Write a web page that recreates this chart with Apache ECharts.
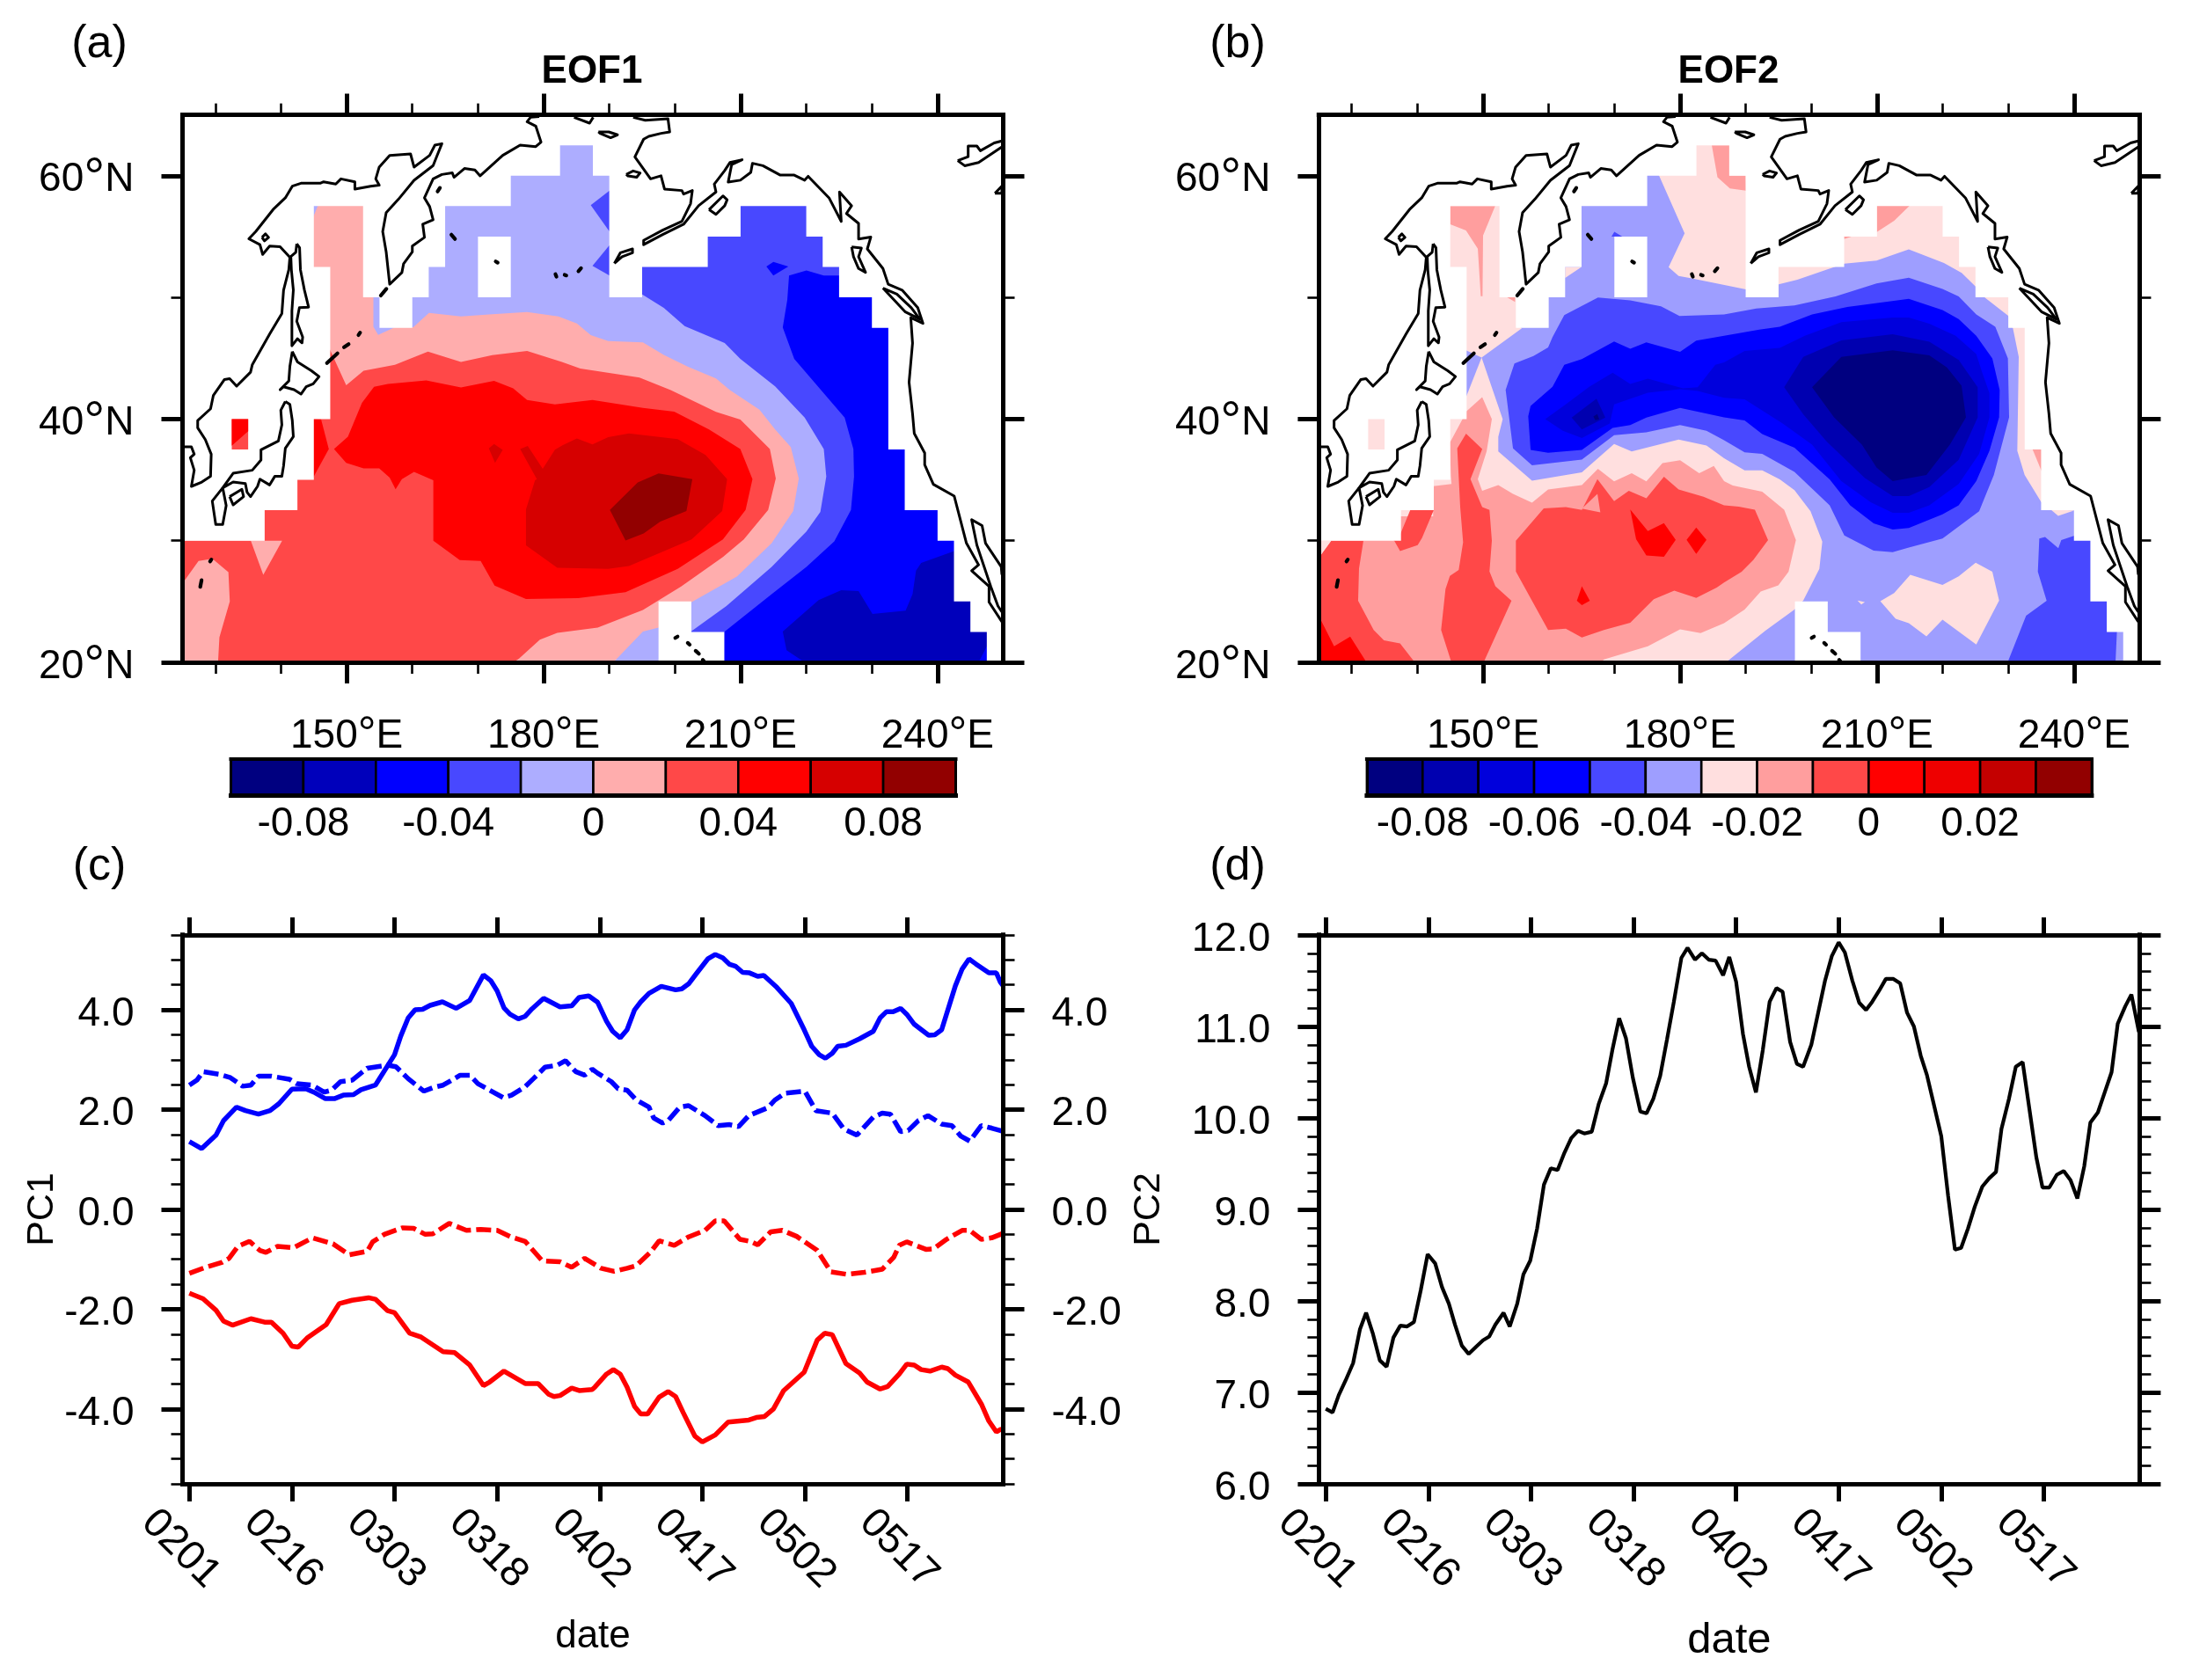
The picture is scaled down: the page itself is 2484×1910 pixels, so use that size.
<!DOCTYPE html>
<html><head><meta charset="utf-8">
<style>html,body{margin:0;padding:0;background:#fff}#c{width:2484px;height:1910px}</style>
<script src="https://cdn.jsdelivr.net/npm/echarts@6/dist/echarts.min.js"></script>
</head><body><div id="c"></div>
<script>
// ---------- tick labels and levels ----------
const lonMajor=[150,180,210,240];
const lonLabels=['150°E','180°E','210°E','240°E'];
const lonMinor=[130,140,160,170,190,200,220,230];
const latMajor=[20,40,60];
const latLabels=['20°N','40°N','60°N'];
const latMinor=[30,50];
const dayTicks=[0,15,30,45,60,75,90,105];
const dayLabels=['0201','0216','0303','0318','0402','0417','0502','0517'];
const pc1Major=[-4,-2,0,2,4];
const pc1Minor=[-5.5,-5,-4.5,-3.5,-3,-2.5,-1.5,-1,-0.5,0.5,1,1.5,2.5,3,3.5,4.5,5,5.5];
const pc2Major=[6,7,8,9,10,11,12];
const pc2Minor=[6.2,6.4,6.6,6.8,7.2,7.4,7.6,7.8,8.2,8.4,8.6,8.8,9.2,9.4,9.6,9.8,10.2,10.4,10.6,10.8,11.2,11.4,11.6,11.8];
const levelsA=[-0.1,-0.08,-0.06,-0.04,-0.02,0,0.02,0.04,0.06,0.08,0.1];
const levelLabelsA=[-0.08,-0.04,0,0.04,0.08];
const coloursA=['#000080','#0000bb','#0000ff','#4848ff','#adadff','#ffadad','#ff4848','#ff0000','#d60000','#920000'];
const levelsB=[-0.09,-0.08,-0.07,-0.06,-0.05,-0.04,-0.03,-0.02,-0.01,0,0.01,0.02,0.03,0.04];
const levelLabelsB=[-0.08,-0.06,-0.04,-0.02,0,0.02];
const coloursB=['#000080','#0000b0','#0000dc','#0000ff','#4848ff','#9e9eff','#ffdfdf','#ff9e9e','#ff4848','#ff0000','#ee0000','#c40000','#920000'];

// ---------- land mask (lon,lat) ----------
const domain=[[125,20],[250,20],[250,65],[125,65]];
const maskLand=[[125,30],[137.5,30],[137.5,32.5],[142.5,32.5],[142.5,35],[145,35],[145,40],[147.5,40],[147.5,52.5],[145,52.5],[145,57.5],[152.5,57.5],[152.5,50],[155,50],[155,47.5],[160,47.5],[160,50],[162.5,50],[162.5,52.5],[165,52.5],[165,57.5],[175,57.5],[175,60],[182.5,60],[182.5,62.5],[187.5,62.5],[187.5,60],[190,60],[190,50],[195,50],[195,52.5],[205,52.5],[205,55],[210,55],[210,57.5],[220,57.5],[220,55],[222.5,55],[222.5,52.5],[225,52.5],[225,50],[230,50],[230,47.5],[232.5,47.5],[232.5,37.5],[235,37.5],[235,32.5],[240,32.5],[240,30],[242.5,30],[242.5,25],[245,25],[245,22.5],[247.5,22.5],[247.5,20],[250,20],[250,65],[125,65]];
const maskHawaii=[[197.5,20],[197.5,25],[202.5,25],[202.5,22.5],[207.5,22.5],[207.5,20]];
const maskHole=[[170,50],[170,55],[175,55],[175,50]];
const japanSeaCell=[[132.5,37.5],[132.5,40],[135,40],[135,37.5]];

// ---------- EOF1 contour regions (lon,lat) ----------
const a_n3=[[194.91,50.27],[198.3,49.14],[201.48,47.63],[207.58,46.24],[209.96,44.95],[215.26,42.69],[219.76,40.11],[222.67,37.53],[223.05,35.27],[222.15,32.37],[220.03,30.76],[214.73,27.85],[207.84,24.63],[202.44,22.53],[202.44,20],[250,20],[250,65],[195,65]];
const a_n3b=[[190.03,58.78],[187.18,57.58],[190.03,55.41]];
const a_n3c=[[190.03,54.28],[187.44,52.59],[190.03,51.8]];
const a_n2=[[217.38,51.79],[217.11,49.79],[216.42,47.53],[218.17,44.95],[225.85,40.11],[227.18,37.53],[227.28,35.27],[226.81,32.53],[224.27,29.95],[220.03,27.85],[214.73,25.6],[207.58,22.53],[207.58,20],[250,20],[250,51.8],[222.67,51.79],[220.03,52.21]];
const a_n2b=[[213.93,52.53],[214.99,52.92],[217.27,52.53],[214.99,51.79]];
const a_n1=[[216.42,22.53],[221.88,25.11],[225.32,25.92],[227.97,25.85],[230.09,23.98],[235.13,24.24],[236.19,25.6],[236.72,27.53],[237.5,28.17],[242.54,29.14],[250,29],[250,21.4],[247.57,21.4],[246.25,20],[219.76,20],[217,21]];
const a_p1=[[145.6,57.5],[154,58],[154.07,49.99],[154.07,47.58],[154.8,46.91],[157.35,47.54],[160.15,47.54],[162.54,48.72],[167.41,48.43],[172.18,48.62],[177.48,48.79],[182.25,48.43],[185.06,47.85],[187.18,46.89],[189.83,46.4],[195.12,46.3],[198.3,45.27],[202,44.3],[206.25,43.34],[208.37,42.37],[212.87,40.76],[215.26,39.14],[217.64,37.69],[218.86,35.11],[218.01,32.43],[214.73,29.79],[209.43,27.05],[202.54,24.95],[197.51,22.85],[195.12,22.53],[190.62,20],[125,20],[125,56.6],[144.9,56.6]];
const a_p2=[[147.39,45.78],[149.93,42.77],[152.58,43.97],[157.35,44.45],[162.38,45.54],[167.41,44.69],[172.18,45.25],[177.48,45.59],[182.78,44.69],[185.59,44.14],[194.6,43.4],[199.36,42.37],[206.25,40.59],[209.96,39.95],[214.46,37.53],[215.36,35.11],[214.2,32.53],[210.49,30.11],[207.31,28.66],[200.95,26.24],[195.12,24.3],[188.24,22.85],[182.08,22.43],[179.43,21.87],[176.25,20.3],[175.4,20],[130.41,20],[130.62,22.06],[132.2,25.01],[131.99,27.41],[129.56,28.52],[127.44,28.33],[125,26.49],[125,30],[135.4,30],[137.3,27.2],[140.17,30],[137.5,30],[137.5,46]];
const a_p3=[[148.07,37.54],[150.19,38.55],[152.33,41.32],[154.17,42.65],[156.29,42.89],[162.12,43.18],[167.41,42.6],[172.45,43.13],[175.36,42.53],[177.48,41.57],[181.72,41.2],[187.44,41.56],[195.12,40.92],[199.89,40.6],[205.19,39.14],[209.96,37.53],[211.81,35.05],[210.76,32.53],[207.31,30.11],[200.42,27.69],[192.48,25.76],[185.26,25.27],[177.31,25.2],[172.53,26.3],[170.41,28.33],[167.23,28.4],[163.2,30],[163.2,34.97],[160.26,35.66],[158.41,35.06],[157.45,34.22],[156.55,35.18],[154.96,35.95],[152.58,35.95],[149.93,36.39]];
const a_p3b=[[144.9,40.05],[146.1,40],[147.28,37.54],[144.9,35.18]];
const a_p4=[[178.97,35.06],[176.42,37.54],[177.58,37.78],[179.86,35.91],[181.72,37.47],[182.94,37.85],[185.06,38.4],[187.44,37.92],[189.83,38.5],[193,38.82],[200.42,38.34],[204.66,37.05],[207.95,35.05],[207.2,32.43],[202.54,30.11],[193,27.92],[189.83,27.69],[182.08,27.78],[177.31,29.62],[177.31,32.57],[178.69,34.97]];
const a_p4b=[[171.65,37.59],[172.45,37.95],[173.77,37.46],[172.6,36.39]];
const a_p5=[[190.09,32.53],[194.33,34.79],[197.51,35.53],[202.65,35.05],[201.75,32.43],[197.77,31.56],[195.23,30.59],[192.48,30.01]];
const a_cellRed=[[132.5,40],[135,40],[135,39],[132.5,37.8]];

// ---------- EOF2 contour regions (lon,lat) ----------
const b_paleWest=[[187,20],[125,20],[125,60],[155,60],[155.5,47.6],[155.9,47.46],[149.78,45.05],[152.99,39.99],[152.32,38.55],[152.32,37.34],[157.46,34.93],[165.05,35.61],[169.96,37.95],[172.64,37.34],[179.79,38.31],[184.03,37.82],[186.71,36.77],[189.84,35.78],[192.52,35.78],[195.2,35.03],[197.43,34.16],[199.88,32.42],[201.67,29.93],[201.22,27.69],[198.77,25.08],[197.43,24.33],[192.96,22.59]];
const b_paleNorth=[[176.77,60.06],[180.7,55.26],[178.26,52.49],[179.79,51.75],[181.8,51.56],[186.26,51.07],[190.04,50.65],[195,50],[195.02,51.08],[197.87,51.45],[203.23,52.44],[205.02,52.77],[209.93,53.02],[214.84,53.94],[220.2,52.82],[222.9,52.02],[225.12,50.83],[226.46,49.96],[230.03,48.46],[230.7,47.47],[231.59,45.1],[231.37,37.39],[232.49,35.4],[235.03,33.16],[236,33],[250,33],[250,65],[176.77,65]];
const b_bluePatch=[[147.41,45.65],[149.78,45.05],[147.41,41.8],[146,41.8],[146,45.65]];
const b_paleCorner=[[125,30],[126.87,30],[125,28.6]];
const b_paleBit1=[[162.5,52.5],[165,52.5],[162.5,51.6]];
const b_paleBit2=[[236.5,32.54],[237.6,32.04],[240.08,32.49]];
const b_paleIsland=[[210.51,25.03],[212.61,25.7],[215.07,27.19],[219.98,26.37],[222.44,27.07],[225.03,28.19],[227.57,27.44],[228.6,25.08],[225.12,21.47],[219.98,23.51],[217.53,22.14],[214.85,23.21],[212.84,23.58]];
const b_paleDot=[[207.03,25.08],[208.15,24.95],[207.61,24.75]];
const b_pink=[[147.41,40.6],[149.87,41.8],[151.34,40],[150.54,37.34],[149.2,35.05],[149.87,34.09],[152.32,34.57],[154.56,33.85],[157.46,33.13],[159.91,34.21],[165.05,34.57],[167.5,35.9],[169.96,34.88],[172.64,35.54],[174.87,34.88],[177.33,36.38],[180.01,36.62],[182.92,35.54],[185.15,36.14],[186.71,34.9],[188.05,34.53],[192.52,34.03],[195.86,32.54],[197.65,30.05],[196.53,27.44],[194.97,26.32],[192.29,25.82],[189.84,24.33],[186.71,23.21],[183.14,22.41],[180.01,22.72],[175.1,21.32],[168.4,20.24],[168,20],[125,20],[125,30.5],[137,30.5],[137,32],[142.4,32],[142.4,34.47],[145.2,34.65],[145.1,35.3],[144.95,38.06],[146.87,40]];
const b_pinkTL=[[145,57.5],[151.84,57.5],[150,55.08],[149.92,50.1],[149.65,50.1],[149.2,54],[147.4,55.5],[145,56]];
const b_pinkBit=[[153.66,50],[154.87,50],[154.87,49.63]];
const b_pinkN=[[184.84,62.5],[187.5,62.5],[187.5,60],[190,60],[190.04,58.77],[187.6,58.95],[185.7,59.87]];
const b_pinkNE=[[209.93,57.54],[214.98,57.54],[212.61,56.3],[209.93,55.35]];
const b_pinkBit2=[[204.93,55],[206.1,55],[205,54.8]];
const b_pinkE=[[233.69,37.52],[235.07,37.52],[235.07,35.7]];
const b_redWest=[[147.41,38.79],[149.87,37.54],[148.08,35.05],[149.87,32.77],[150.98,32.52],[151.34,29.99],[150.98,27.47],[151.88,26.26],[154.33,25.06],[150.09,20],[145.18,20],[143.61,22.65],[144.28,26.02],[144.95,27.11],[146.29,27.59],[146.96,29.87],[146.52,32.77],[146.07,37.58]];
const b_redMain=[[155,29.99],[159.24,32.65],[162.6,32.77],[165.05,32.52],[167.42,35.05],[169.96,33.25],[172.2,34.09],[174.87,33.49],[177.55,35.25],[179.79,34.21],[183.58,33.61],[186.71,32.91],[188.94,32.79],[191.4,32.54],[193.41,30.05],[191.18,28.43],[189.39,27.44],[186.71,26.57],[185.59,26.14],[182.47,25.3],[179.12,25.9],[176,25.18],[172.42,23.25],[168.4,22.65],[165.05,22.04],[162.6,22.77],[159.91,22.65],[155,27.47]];
const b_notch=[[165.05,32.64],[167.42,33.85],[167.86,32.33]];
const b_redNW=[[138.92,32.52],[142.5,32.52],[140.71,30.23],[140.04,29.63],[137.36,29.15],[136.47,30],[135,30.5],[137.36,30.48]];
const b_redSW=[[126.87,30],[131.78,30],[131.11,27.71],[130.97,25.06],[133.34,22.65],[134.9,21.8],[137.36,21.56],[139.6,20],[125,20],[125,28.6]];
const b_hot1=[[172.42,32.57],[175.1,30.79],[177.55,31.44],[179.34,30.07],[177.55,28.67],[174.87,28.79],[173.31,30.12]];
const b_hot2=[[182.47,31.08],[184.03,30.07],[182.47,28.91],[181,30.07]];
const b_hot3=[[165.05,26.26],[166.26,25.06],[165.05,24.7],[164.29,25.06]];
const b_hot4=[[125,23.8],[127.31,21.32],[129.77,22.12],[132.25,20],[125,20]];
const b_blue4=[[154.56,37.58],[153.44,42.4],[154.78,44.57],[157.68,45.17],[159.91,45.89],[160.58,46.74],[162.37,48.54],[167.5,49.99],[172.42,49.75],[177.1,49.27],[179.92,48.47],[186.71,48.59],[191.62,49.09],[197.43,49.33],[203.68,50.08],[209.93,51.15],[214.84,51.62],[219.98,50.7],[222.44,50.08],[225.12,48.59],[228.02,47.59],[229.94,44.98],[230.12,40.13],[227.8,35.4],[225.56,32.42],[219.98,30.18],[214.85,29.43],[212.39,29.06],[209.49,29.18],[205.02,30.43],[202.79,32.91],[197.43,35.65],[192.52,37.14],[189.84,37.27],[186.71,38.26],[184.03,39.03],[180.01,39.51],[174.87,38.91],[169.96,38.67],[165.05,36.67],[157.46,36.19]];
const b_blue3=[[157.24,37.46],[156.88,40.23],[157.24,41.08],[160.58,42.64],[162.37,44.45],[165.05,44.93],[169.96,46.38],[172.42,45.77],[174.87,46.3],[180.01,45.53],[182.47,46.45],[186.71,46.85],[192.07,47.34],[195.2,47.59],[200.11,48.59],[205.47,49.21],[214.84,49.88],[219.98,48.96],[222.44,48.21],[225.12,46.85],[227.57,44.98],[228.69,42.37],[228.6,40.13],[227.13,37.39],[225.12,34.9],[222.44,32.91],[219.98,32.17],[214.85,31.05],[212.39,30.92],[209.49,31.42],[205.91,32.91],[202.79,35.03],[197.43,37.64],[192.52,38.76],[189.84,39.88],[186.71,40.13],[180.01,40.91],[174.87,40.11],[172.42,39.51],[169.74,39.27],[165.05,37.46],[159.91,37.22]];
const b_blue2=[[159.47,39.99],[162.59,41.2],[166.17,42.64],[169.74,43.8],[172.42,42.88],[175.1,43.32],[180.46,42.52],[182.69,42.62],[185.37,44.45],[186.71,44.66],[189.84,45.6],[195.2,45.85],[199,46.85],[204.57,47.97],[212.39,48.34],[214.84,48.34],[217.97,47.84],[221.99,46.85],[225.12,45.35],[226,43.86],[227.13,42.12],[227.13,40.13],[225.56,37.14],[222.44,34.66],[217.97,32.91],[214.85,32.29],[212.39,32.29],[209.04,33.16],[204.57,34.9],[200.11,37.89],[195.64,39.63],[189.84,41.62],[186.71,41.75],[182.69,42.3],[180.01,42.45],[175.1,42.16],[169.96,41.2],[169.29,39.63],[165.05,38.43],[162.15,39.03]];
const b_blue1=[[195.86,42.62],[198.77,45.1],[204.57,46.47],[212.39,46.97],[217.97,46.35],[222.44,44.86],[225.34,42.62],[225.34,40.13],[222.44,36.65],[217.97,34.41],[214.85,33.66],[212.39,33.66],[208.15,35.15],[202.34,38.14],[198.77,40.38]];
const b_blue1b=[[163.49,40.11],[167.28,41.68],[168.62,40.11],[165.05,39.15]];
const b_navy=[[200.11,42.62],[204.57,45.1],[212.39,45.65],[217.97,45.23],[220.65,44.23],[222.88,42.74],[223.55,40.13],[221.1,37.89],[217.53,35.4],[212.39,34.9],[209.93,36.02],[207.7,37.89],[203.46,40.13]];
const b_navyB=[[166.8,40.2],[167.4,40.4],[167.7,39.98],[167.1,39.9]];
const b_blueSE=[[234.72,30.18],[235.6,30.3],[237.62,29.38],[238.07,30.05],[240.08,30.42],[245,30.42],[245,22.59],[246.55,22.59],[246.33,20],[229.9,20],[232.71,23.83],[235.84,25.07],[234.5,27.44]];
const b_blueBit=[[169.56,55],[170,55.4],[171.2,55]];

// ---------- coastlines (lon,lat) ----------
const coastAsia=[[125,37.71],[126.35,37.71],[126.78,37.11],[126.19,36.82],[126.78,35.79],[126.35,34.46],[127.94,34.82],[129.27,35.3],[129.37,37.11],[128.47,38.31],[127.31,39.28],[127.31,39.88],[129.27,40.84],[129.69,41.93],[131.39,43.25],[132.18,43.32],[133.24,42.7],[135.36,43.85],[135.62,44.45],[138.27,46.98],[140.13,48.67],[140.39,50.59],[141.19,52.28],[141.35,53.29],[139.86,54.16],[138.27,54.21],[137.21,53.53],[136.79,54.33],[135.1,54.81],[136.15,55.41],[138.8,57.22],[140.66,58.18],[141.72,59.14],[143.04,59.38],[145.96,59.38],[146.49,59.5],[148.34,59.31],[149.13,59.74],[151.25,59.5],[151.25,58.9],[153.64,59.14],[154.96,59.22],[154.43,59.74],[154.96,60.71],[156.55,61.67],[159.73,61.79],[160.26,60.71],[162.64,61.67],[163.44,62.51],[164.5,62.63],[163.7,61.55],[163.17,60.83],[160.26,59.62],[157.88,58.06],[156.02,56.97],[155.49,55.41],[156.02,53.73],[156.55,51.08],[158.41,52.04],[158.67,52.76],[160,53.73],[160,54.21],[161.85,54.93],[161.59,56.01],[163.17,56.37],[162.64,57.46],[161.85,58.18],[163.17,59.74],[164.5,60.1],[166.09,60.23],[166.35,59.87],[167.94,60.59],[169.53,60.47],[170.33,59.99],[173.77,61.67],[176.42,62.51],[178.8,62.39],[179.6,62.76],[178.8,64.08],[177.48,64.44],[178.01,64.8],[179.33,64.87]];
const coastChukotka=[[184.63,64.8],[187,64.32],[187.55,64.8]];
const coastStLawrence=[[188.34,63.6],[189.93,63.6],[191.25,63.36],[190.2,63.12],[188.6,63.48],[188.34,63.6]];
const coastNunivak=[[192.58,60.11],[193.64,60.39],[194.7,60.23],[194.17,59.87],[192.85,59.98],[192.58,60.11]];
const coastAmerica=[[193.64,64.8],[195.49,64.56],[198.94,64.68],[199.2,63.6],[197.88,63.48],[196.02,63.24],[195.23,63],[193.9,61.55],[196.29,59.74],[197.88,59.99],[198.41,58.9],[201.06,58.78],[201.32,58.49],[202.65,58.78],[202.38,57.7],[201.06,56.25],[198.14,55.53],[195.23,54.69],[195.23,54.33],[198.14,55.17],[201.32,56.01],[203.6,57.53],[206.25,58.66],[205.99,59.31],[207.58,60.43],[208.37,61.08],[210.23,61.31],[208.64,60.92],[208.11,59.47],[209.96,59.63],[211.55,60.27],[211.81,61.02],[213.4,60.82],[216.05,60.05],[218.17,60.05],[219.76,59.63],[220.29,59.95],[223.47,58.18],[225.33,56.24],[225.06,58.66],[226.91,57.53],[226.12,56.89],[227.97,56.08],[227.97,54.79],[229.83,54.95],[229.3,53.98],[231.68,52.37],[232.48,51.08],[234.6,50.6],[236.98,49.15],[237.78,47.86],[235.92,48.34],[236.19,46.24],[235.66,43.02],[236.19,40.43],[236.45,38.82],[238.04,37.21],[238.04,36.24],[239.36,34.63],[242.54,33.66],[244.4,29.79],[246.25,28.01],[245.19,27.53],[247.84,26.24],[247.84,24.95],[249.8,23.34]];
const coastBaja=[[249.8,27.21],[249.7,27.85],[247.31,29.79],[246.78,31.24],[245.19,31.72],[245.99,29.63],[248.1,26.24],[249.2,24.63],[249.8,24.14]];
const coastKodiak=[[205.19,57.21],[207.31,58.34],[207.95,58.02],[207.58,57.53],[206.25,56.82],[205.19,57.21]];
const coastCharlotte=[[226.91,54.14],[228.4,54.05],[227.97,53.34],[229.03,52.05],[227.97,52.37],[227.2,53.34],[226.91,54.14]];
const coastVancouver=[[231.68,50.76],[233.8,50.27],[236,49.15],[237.3,48.2],[235.1,48.8],[233,50],[231.68,50.76]];
const coastUnimak=[[190.78,52.79],[191.68,53.66],[193.54,53.98],[193.54,53.66],[191.95,53.34],[190.78,52.79]];
const coastLake=[[243.07,61.24],[244.66,61.56],[244.66,62.44],[245.99,62.44],[246.52,62.05],[248.63,62.69],[249.8,62.86]];
const coastLake2=[[249.8,62.37],[246.25,61.08],[244.13,60.82],[243.07,61.24]];
const coastBay=[[248.74,58.56],[249.8,59.15],[249.8,58.56],[248.74,58.56]];
const coastSakhalin=[[142.4,54.4],[142.83,54.08],[142.96,52.27],[143.57,50.59],[144.2,49.2],[142.8,49.15],[142.4,48.04],[143.3,46.73],[143.2,46.26],[142.5,46.6],[141.66,46.02],[141.66,48.9],[141.88,50.6],[141.58,52.28],[141.5,53.35],[142.25,53.7],[142.4,54.4]];
const coastHokkaido=[[141.72,45.54],[142.51,44.69],[144.63,43.97],[145.8,43.49],[144.9,42.89],[143.84,42.65],[143.04,42.05],[141.98,42.41],[140.39,42.65],[139.86,42.41],[141.19,43.13],[141.35,44.33],[141.72,45.54]];
const coastHonshu=[[140.66,41.44],[141.35,41.2],[141.72,39.88],[141.88,38.55],[140.66,37.59],[140.39,36.15],[140.13,35.3],[139.07,35.3],[138.27,34.58],[136.79,35.06],[136.42,34.46],[135.36,33.62],[134.83,33.98],[134.57,34.7],[132.71,34.82],[131.12,34.34],[132.71,35.54],[135.62,35.79],[136.95,36.63],[136.95,37.47],[139.6,38.19],[140.13,39.52],[139.97,40.72],[140.66,41.44]];
const coastKyushu=[[131.12,34.34],[129.53,33.26],[130.06,31.33],[131.12,31.33],[131.65,32.89],[131.12,34.34]];
const coastShikoku=[[132.18,33.62],[134.04,34.22],[134.3,33.62],[132.71,32.94],[132.18,33.62]];
const coastShantar=[[137.11,54.93],[137.64,55.22],[138.11,54.93],[137.48,54.64],[137.11,54.93]];
const coastLines=[coastAsia,coastChukotka,coastStLawrence,coastNunivak,coastAmerica,coastBaja,coastKodiak,coastCharlotte,coastVancouver,coastUnimak,coastLake,coastLake2,coastBay,coastSakhalin,coastHokkaido,coastHonshu,coastKyushu,coastShikoku,coastShantar];
const smallIslands=[[[147,44.6],[148.6,45.4]],[[149.6,45.9],[150.3,46.15]],[[151.8,46.9],[152.05,47.1]],[[155.2,50.15],[156.05,50.7]],[[163.85,58.7],[164.2,59]],[[165.95,55.15],[166.5,54.8]],[[172.7,52.95],[173,52.85]],[[181.8,51.9],[181.95,51.7]],[[183.2,51.85],[183.45,51.8]],[[185.3,52.15],[185.7,52.4]],[[129.2,28.3],[129.4,28.45]],[[127.9,26.75],[127.7,26.2]],[[200.05,22],[200.4,22.12]],[[201.95,21.6],[202.25,21.45]],[[203.15,20.95],[203.65,20.7]],[[204.25,20.2],[204.4,20.1]]];

// stacking order of regions: [colour index, region]; -1 means land (white)
const layersA=[[4,domain],[3,a_n3],[3,a_n3b],[3,a_n3c],[2,a_n2],[2,a_n2b],[1,a_n1],[5,a_p1],[6,a_p2],[7,a_p3],[7,a_p3b],[8,a_p4],[8,a_p4b],[9,a_p5],[-1,maskLand],[-1,maskHawaii],[-1,maskHole],[6,japanSeaCell],[7,a_cellRed]];
const layersB=[[5,domain],[6,b_paleWest],[6,b_paleNorth],[5,b_bluePatch],[6,b_paleCorner],[6,b_paleBit1],[6,b_paleBit2],[6,b_paleIsland],[6,b_paleDot],[7,b_pink],[7,b_pinkTL],[7,b_pinkBit],[7,b_pinkN],[7,b_pinkNE],[7,b_pinkBit2],[7,b_pinkE],[6,b_paleCorner],[8,b_redWest],[8,b_redMain],[7,b_notch],[8,b_redNW],[8,b_redSW],[6,b_paleCorner],[9,b_hot1],[9,b_hot2],[9,b_hot3],[9,b_hot4],[4,b_blue4],[3,b_blue3],[2,b_blue2],[1,b_blue1],[1,b_blue1b],[0,b_navy],[0,b_navyB],[4,b_blueSE],[4,b_blueBit],[-1,maskLand],[-1,maskHawaii],[-1,maskHole],[6,japanSeaCell]];

// ---------- time series [day index, value] ----------
const pc1Solid=[[0,1.36],[1.8,1.22],[3.9,1.49],[5,1.78],[6.9,2.05],[8.2,1.98],[10.1,1.91],[11.8,1.98],[13.1,2.12],[15,2.41],[17,2.42],[18.2,2.35],[19.9,2.22],[21.2,2.22],[22.5,2.29],[24,2.3],[25.1,2.4],[27.2,2.49],[30,3.1],[30.9,3.47],[32,3.84],[33,4],[34.1,4.01],[35.2,4.09],[37,4.16],[39,4.03],[41,4.19],[43,4.7],[44.1,4.58],[45,4.38],[46,4.04],[46.9,3.91],[48.1,3.82],[49.1,3.87],[50.1,4.02],[51.8,4.23],[54.2,4.06],[55.9,4.08],[57,4.25],[58.4,4.28],[59.7,4.15],[61,3.77],[61.9,3.57],[63,3.44],[64,3.6],[65.1,4],[66,4.16],[67.2,4.33],[69,4.47],[71.1,4.4],[72,4.42],[73,4.52],[74.1,4.72],[75.8,5.02],[76.9,5.11],[78,5.04],[79,4.91],[79.9,4.87],[80.9,4.75],[81.9,4.74],[83.1,4.67],[84,4.69],[85.9,4.45],[88,4.13],[89.9,3.6],[91,3.27],[92.1,3.1],[93,3.03],[94,3.13],[94.8,3.27],[96,3.29],[98,3.42],[100,3.57],[101,3.84],[101.9,3.96],[102.9,3.96],[104,4.03],[104.9,3.91],[106,3.71],[108.1,3.49],[109,3.5],[110,3.6],[112,4.48],[113,4.82],[114,5.02],[115,4.92],[116.9,4.74],[118,4.74],[118.6,4.55],[119,4.48]];
const pc1Dashed=[[0,2.49],[1.1,2.59],[2,2.76],[4.3,2.71],[6,2.64],[7.8,2.47],[9,2.49],[10.1,2.67],[12,2.67],[14.6,2.61],[15.7,2.52],[18,2.49],[19.7,2.35],[20.8,2.39],[22.1,2.56],[23.8,2.59],[26,2.83],[29,2.89],[30.2,2.86],[32,2.62],[34.3,2.37],[35.8,2.45],[37.1,2.49],[39.6,2.69],[41,2.69],[42.2,2.52],[45.9,2.24],[47.1,2.29],[49.1,2.46],[50.3,2.62],[52,2.85],[53.8,2.89],[55,2.98],[56.5,2.76],[57.8,2.69],[58.9,2.81],[59.7,2.73],[61.7,2.56],[62.7,2.42],[64,2.39],[65.3,2.2],[67.2,2.05],[67.9,1.83],[69.2,1.73],[70,1.78],[71.7,2.05],[73,2.08],[75.4,1.88],[77.3,1.68],[79,1.7],[80.3,1.66],[81.8,1.88],[84.6,2.04],[85.6,2.19],[87.1,2.33],[90,2.37],[91.6,1.98],[94,1.93],[95.7,1.61],[97.6,1.49],[100,1.85],[101.3,1.93],[102.5,1.91],[104,1.56],[105.1,1.58],[106.6,1.78],[108,1.88],[110,1.71],[111.5,1.68],[112.8,1.47],[114.1,1.37],[115.8,1.68],[117.3,1.63],[118.6,1.58],[119,1.56]];
const pc2Solid=[[0,-1.68],[2,-1.79],[3.9,-2.02],[5,-2.24],[6.3,-2.32],[9,-2.19],[11,-2.26],[12,-2.26],[13.7,-2.48],[15,-2.74],[15.9,-2.76],[17.2,-2.58],[20,-2.31],[21.9,-1.89],[23.8,-1.82],[26.2,-1.77],[27.2,-1.8],[29,-2.03],[30,-2.07],[32.2,-2.48],[33.9,-2.56],[37.1,-2.85],[38.8,-2.87],[41,-3.12],[43,-3.53],[43.9,-3.46],[46,-3.24],[49.1,-3.49],[51,-3.49],[52.5,-3.7],[53.3,-3.75],[54.2,-3.73],[55.9,-3.58],[57,-3.63],[58.9,-3.61],[59.3,-3.56],[61,-3.3],[62,-3.21],[63,-3.3],[64,-3.56],[65.1,-3.95],[66,-4.1],[67,-4.1],[68.7,-3.76],[70,-3.65],[71.1,-3.75],[72.2,-4.07],[73.9,-4.54],[75,-4.66],[76.9,-4.52],[78.8,-4.26],[81.8,-4.22],[82.9,-4.17],[84.1,-4.15],[85.4,-4],[86.9,-3.63],[89.9,-3.26],[91.8,-2.62],[92.9,-2.48],[94,-2.51],[96,-3.09],[98,-3.28],[99.1,-3.46],[101,-3.6],[102.1,-3.55],[103.8,-3.3],[104.9,-3.1],[106,-3.12],[107,-3.21],[108.3,-3.24],[110,-3.16],[110.9,-3.19],[112,-3.32],[113.9,-3.46],[115.8,-3.9],[116.9,-4.24],[118,-4.46],[118.6,-4.41],[119,-4.4]];
const pc2Dashed=[[0,-1.28],[2.4,-1.16],[4.8,-1.06],[5.8,-0.98],[7.1,-0.74],[8.8,-0.64],[10.3,-0.82],[11.2,-0.86],[12.9,-0.74],[15.2,-0.77],[18,-0.57],[21,-0.69],[23.4,-0.91],[26,-0.84],[26.8,-0.65],[28.5,-0.5],[31.1,-0.37],[32.8,-0.38],[34.5,-0.5],[35.6,-0.49],[38,-0.28],[40.5,-0.42],[42.6,-0.4],[45,-0.42],[47,-0.55],[49.1,-0.64],[51.6,-1.03],[54.2,-1.05],[55.9,-1.16],[57.8,-0.98],[60.2,-1.18],[62.1,-1.24],[64,-1.18],[65.3,-1.13],[67.4,-0.86],[68.7,-0.63],[70.9,-0.72],[73,-0.55],[75.4,-0.42],[76.9,-0.23],[78.2,-0.23],[80.5,-0.6],[82,-0.64],[83.1,-0.71],[85,-0.45],[86.7,-0.42],[88.8,-0.54],[91.8,-0.82],[93.8,-1.25],[96.1,-1.3],[98.7,-1.26],[101.3,-1.2],[103,-0.96],[103.8,-0.72],[104.9,-0.65],[107.7,-0.8],[108.8,-0.79],[110.7,-0.6],[113,-0.42],[114.1,-0.42],[115.8,-0.6],[117.3,-0.57],[118.6,-0.5],[119,-0.47]];
const pcD=[[0,6.82],[1,6.78],[1.9,6.97],[2.9,7.13],[4,7.32],[5,7.69],[5.9,7.87],[6.9,7.64],[7.9,7.35],[8.9,7.28],[9.9,7.6],[10.9,7.73],[11.9,7.72],[12.9,7.77],[13.9,8.12],[14.9,8.51],[16,8.41],[17,8.15],[18,7.97],[18.9,7.74],[19.9,7.51],[20.9,7.42],[22,7.5],[23,7.57],[23.9,7.61],[24.8,7.74],[26,7.87],[26.9,7.72],[28,7.97],[28.9,8.29],[29.9,8.44],[30.9,8.79],[31.9,9.27],[32.9,9.45],[33.9,9.43],[34.9,9.62],[35.9,9.78],[36.9,9.86],[37.8,9.83],[38.9,9.85],[39.9,10.15],[41,10.38],[41.9,10.74],[42.9,11.09],[43.9,10.87],[44.9,10.44],[46,10.07],[46.9,10.05],[47.9,10.21],[48.9,10.46],[49.9,10.86],[50.9,11.27],[52,11.75],[52.9,11.86],[54,11.73],[55,11.8],[56,11.73],[57,11.72],[58.1,11.56],[59,11.76],[60,11.49],[61,10.92],[61.9,10.56],[62.9,10.28],[63.9,10.74],[64.9,11.27],[65.9,11.42],[66.8,11.38],[67.9,10.83],[68.9,10.59],[69.8,10.56],[71,10.8],[72,11.15],[73,11.5],[74,11.77],[75,11.92],[75.9,11.81],[77,11.5],[78,11.26],[79,11.18],[79.9,11.27],[80.9,11.39],[81.9,11.52],[83,11.52],[84,11.47],[85,11.15],[86,11],[87,10.68],[87.9,10.47],[89,10.12],[90,9.8],[91,9.15],[92,8.56],[92.9,8.58],[93.9,8.79],[94.9,9.03],[96,9.25],[97,9.34],[98,9.41],[98.8,9.88],[99.9,10.21],[100.9,10.56],[101.9,10.61],[102.9,10.09],[103.9,9.57],[104.8,9.24],[105.8,9.24],[106.9,9.38],[107.9,9.42],[108.9,9.32],[109.9,9.12],[110.9,9.47],[111.8,9.95],[112.9,10.06],[113.9,10.28],[114.9,10.5],[115.8,11.03],[116.9,11.22],[117.8,11.35],[118.9,10.94]];

// ---------- layout ----------
const FONT='"Liberation Sans",Arial,sans-serif';
const LEFT_A=207.5, LEFT_B=1499.4, PANEL_W=933;
const grids=[
 {left:LEFT_A,top:130.6,width:PANEL_W,height:622.4},
 {left:LEFT_B,top:130.6,width:PANEL_W,height:622.4},
 {left:LEFT_A,top:1063,width:PANEL_W,height:624},
 {left:LEFT_B,top:1063,width:PANEL_W,height:624},
 {left:262.5,top:863,width:824,height:41},
 {left:1553.9,top:863,width:824,height:41}
].map(g=>Object.assign({outerBoundsMode:'none',containLabel:false,show:false},g));

const xAxes=[], yAxes=[];
function axis(list,o){
  const a={type:'value',gridIndex:o.grid,position:o.pos,min:o.min,max:o.max,z:10,
    splitLine:{show:false},
    axisLine:{show:true,onZero:false,lineStyle:{color:'#000',width:o.lineW||5,cap:'square'}},
    axisTick:o.ticks?{show:true,customValues:o.ticks,length:o.len,inside:false,lineStyle:{color:'#000',width:o.tickW||5}}:{show:false},
    axisLabel:{show:false}};
  if(o.labels){
    a.axisLabel=Object.assign({show:true,customValues:o.labels,formatter:o.fmt,margin:o.margin,color:'#000',fontFamily:FONT,fontSize:o.fs||46,hideOverlap:false},o.labelExtra||{});
  }
  if(o.name){Object.assign(a,{name:o.name,nameLocation:'middle',nameGap:o.nameGap,nameRotate:o.nameRotate||0,nameTextStyle:{color:'#000',fontFamily:FONT,fontSize:o.nameSize||44}});}
  list.push(a);
  return list.length-1;
}
const lookup=(vals,labs)=>v=>{const i=vals.findIndex(x=>Math.abs(x-v)<1e-6);return i<0?'':labs[i];};
const degree=(vals,labs)=>v=>lookup(vals,labs)(v).replace('°','{d|°}');
const series=[];

function polygonSeries(gi,xi,yi,layers,colours){
  series.push({type:'custom',coordinateSystem:'cartesian2d',xAxisIndex:xi,yAxisIndex:yi,silent:true,animation:false,clip:true,z:2,
    data:layers.map((_,i)=>[i]),encode:{x:-1,y:-1},
    renderItem:(p,api)=>{const l=layers[p.dataIndex];
      return {type:'polygon',shape:{points:l[1].map(c=>api.coord(c))},style:{fill:l[0]<0?'#ffffff':colours[l[0]],stroke:null}};}});
  series.push({type:'custom',coordinateSystem:'cartesian2d',xAxisIndex:xi,yAxisIndex:yi,silent:true,animation:false,clip:true,z:3,
    data:coastLines.map((_,i)=>[i]),encode:{x:-1,y:-1},
    renderItem:(p,api)=>({type:'polyline',shape:{points:coastLines[p.dataIndex].map(c=>api.coord(c))},style:{fill:null,stroke:'#000',lineWidth:3,lineJoin:'round'}})});
  series.push({type:'custom',coordinateSystem:'cartesian2d',xAxisIndex:xi,yAxisIndex:yi,silent:true,animation:false,clip:true,z:3,
    data:smallIslands.map((_,i)=>[i]),encode:{x:-1,y:-1},
    renderItem:(p,api)=>({type:'polyline',shape:{points:smallIslands[p.dataIndex].map(c=>api.coord(c))},style:{fill:null,stroke:'#000',lineWidth:4.2,lineCap:'round'}})});
}
function mapPanel(g,layers,colours){
  const xi=axis(xAxes,{grid:g,pos:'bottom',min:125,max:250,ticks:lonMajor,len:24,labels:lonMajor,fmt:degree(lonMajor,lonLabels),margin:58,
    labelExtra:{rich:{d:{fontSize:52,fontFamily:FONT,color:'#000'}}}});
  axis(xAxes,{grid:g,pos:'bottom',min:125,max:250,ticks:lonMinor,len:13,tickW:2.6});
  axis(xAxes,{grid:g,pos:'top',min:125,max:250,ticks:lonMajor,len:24});
  axis(xAxes,{grid:g,pos:'top',min:125,max:250,ticks:lonMinor,len:13,tickW:2.6});
  const yi=axis(yAxes,{grid:g,pos:'left',min:20,max:65,ticks:latMajor,len:24,labels:latMajor,fmt:degree(latMajor,latLabels),margin:55,
    labelExtra:{padding:[10,0,0,0],rich:{d:{fontSize:60,fontFamily:FONT,color:'#000'}}}});
  axis(yAxes,{grid:g,pos:'left',min:20,max:65,ticks:latMinor,len:13,tickW:2.6});
  axis(yAxes,{grid:g,pos:'right',min:20,max:65,ticks:latMajor,len:24});
  axis(yAxes,{grid:g,pos:'right',min:20,max:65,ticks:latMinor,len:13,tickW:2.6});
  polygonSeries(g,xi,yi,layers,colours);
}
const plainRich={t:{fontSize:46,fontFamily:FONT,color:'#000'}};
function tsPanel(g,yMin,yMax,major,minor,fmt,leftName,leftGap,rightName,rightLabels,dateSize,dateGap){
  const lab={rotate:-45,align:'center',verticalAlign:'middle',padding:[0,28,0,0]};
  const wrapped=v=>'{t|'+fmt(v)+'}';
  const xi=axis(xAxes,{grid:g,pos:'bottom',min:-1,max:119,ticks:dayTicks,len:20,labels:dayTicks,fmt:lookup(dayTicks,dayLabels),margin:84,fs:47,labelExtra:lab,name:'date',nameGap:dateGap,nameSize:dateSize});
  axis(xAxes,{grid:g,pos:'top',min:-1,max:119,ticks:dayTicks,len:20});
  const yi=axis(yAxes,{grid:g,pos:'left',min:yMin,max:yMax,ticks:major,len:24,labels:major,fmt:wrapped,margin:55,labelExtra:{padding:[10,0,0,0],rich:plainRich},name:leftName,nameGap:leftGap,nameRotate:90,nameSize:43});
  axis(yAxes,{grid:g,pos:'left',min:yMin,max:yMax,ticks:minor,len:13,tickW:2.6});
  const r={grid:g,pos:'right',min:yMin,max:yMax,ticks:major,len:24};
  if(rightLabels){Object.assign(r,{labels:major,fmt:wrapped,margin:55,labelExtra:{align:'left',padding:[10,0,0,0],rich:plainRich},name:rightName,nameGap:144,nameRotate:90,nameSize:43});}
  axis(yAxes,r);
  axis(yAxes,{grid:g,pos:'right',min:yMin,max:yMax,ticks:minor,len:13,tickW:2.6});
  return [xi,yi];
}
function colourBar(g,levels,labels,colours){
  const xi=axis(xAxes,{grid:g,pos:'bottom',min:levels[0],max:levels[levels.length-1],lineW:5,labels,fmt:v=>String(v),margin:10});
  axis(xAxes,{grid:g,pos:'top',min:levels[0],max:levels[levels.length-1],lineW:4});
  const yi=axis(yAxes,{grid:g,pos:'left',min:0,max:1,lineW:3});
  axis(yAxes,{grid:g,pos:'right',min:0,max:1,lineW:3});
  series.push({type:'custom',coordinateSystem:'cartesian2d',xAxisIndex:xi,yAxisIndex:yi,silent:true,animation:false,z:2,
    data:colours.map((_,i)=>[i]),encode:{x:-1,y:-1},
    renderItem:(p,api)=>{const i=p.dataIndex,a=api.coord([levels[i],1]),b=api.coord([levels[i+1],0]);
      return {type:'rect',shape:{x:a[0],y:a[1],width:b[0]-a[0],height:b[1]-a[1]},style:{fill:colours[i],stroke:'#000',lineWidth:2.6}};}});
}

mapPanel(0,layersA,coloursA);
mapPanel(1,layersB,coloursB);
const oneDec=v=>v.toFixed(1);
const [cx,cy]=tsPanel(2,-5.5,5.5,pc1Major,pc1Minor,oneDec,'PC1',131,'PC2',true,44,152);
const dashes=[17,6];
[[pc1Solid,'#0000ff','solid'],[pc1Dashed,'#0000ff',dashes],[pc2Solid,'#ff0000','solid'],[pc2Dashed,'#ff0000',dashes]].forEach(s=>{
  series.push({type:'line',xAxisIndex:cx,yAxisIndex:cy,data:s[0],showSymbol:false,silent:true,animation:false,z:4,lineStyle:{color:s[1],width:5.5,type:s[2]}});
});
const [dx,dy]=tsPanel(3,6,12,pc2Major,pc2Minor,oneDec,'',0,'',false,49,154);
series.push({type:'line',xAxisIndex:dx,yAxisIndex:dy,data:pcD,showSymbol:false,silent:true,animation:false,z:4,lineStyle:{color:'#000',width:4.2}});
colourBar(4,levelsA,levelLabelsA,coloursA);
colourBar(5,levelsB,levelLabelsB,coloursB);

const titleAt=(text,left,top,size,weight)=>({text,left,top,padding:0,textAlign:'center',textVerticalAlign:'middle',textStyle:{color:'#000',fontFamily:FONT,fontSize:size,fontWeight:weight||'normal'}});
const chart=echarts.init(document.getElementById('c'),null,{renderer:'canvas',width:2484,height:1910});
chart.setOption({animation:false,backgroundColor:'#fff',
  title:[titleAt('EOF1',673,82,44,'bold'),titleAt('EOF2',1965,82,44,'bold'),titleAt('(a)',113,51,52),titleAt('(b)',1407,51,52),titleAt('(c)',113,986,52),titleAt('(d)',1407,986,52)],
  grid:grids,xAxis:xAxes,yAxis:yAxes,series});
</script></body></html>
